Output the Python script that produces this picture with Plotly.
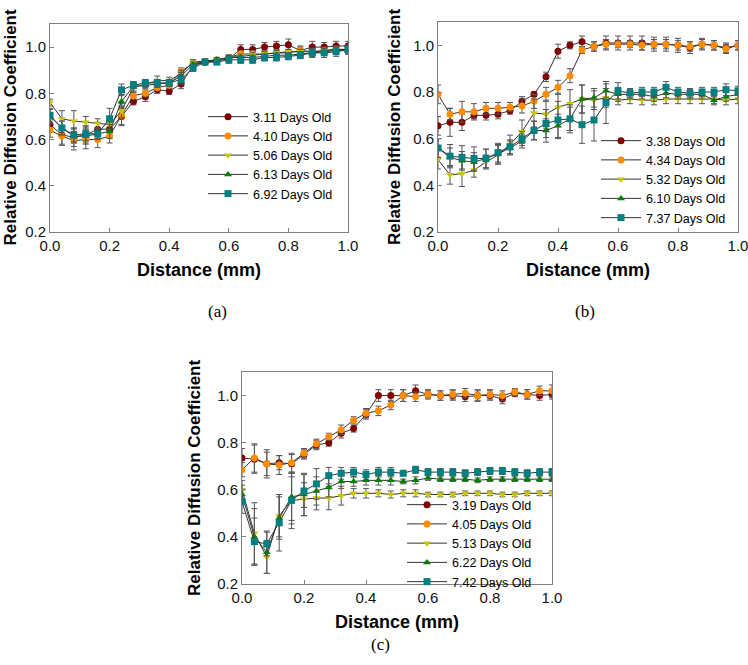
import plotly.graph_objects as go

# ------------------------------ data ------------------------------
distance = [0.0, 0.04, 0.08, 0.12, 0.16, 0.20, 0.24, 0.28, 0.32, 0.36, 0.40, 0.44, 0.48,
            0.52, 0.56, 0.60, 0.64, 0.68, 0.72, 0.76, 0.80, 0.84, 0.88, 0.92, 0.96, 1.0]

# panel (a)
labels_a = ["3.11 Days Old", "4.10 Days Old", "5.06 Days Old", "6.13 Days Old", "6.92 Days Old"]
a_311 = [0.665, 0.62, 0.61, 0.62, 0.645, 0.645, 0.70, 0.765, 0.785, 0.815, 0.81, 0.84, 0.92,
         0.935, 0.94, 0.95, 0.99, 0.99, 1.0, 1.005, 1.01, 0.985, 1.0, 1.0, 1.005, 1.005]
a_410 = [0.64, 0.615, 0.595, 0.60, 0.60, 0.615, 0.705, 0.79, 0.80, 0.825, 0.835, 0.895, 0.93,
         0.935, 0.945, 0.955, 0.97, 0.97, 0.97, 0.975, 0.975, 0.985, 0.98, 0.985, 0.99, 0.99]
a_506 = [0.76, 0.69, 0.68, 0.675, 0.67, 0.665, 0.725, 0.825, 0.84, 0.855, 0.855, 0.885, 0.935,
         0.94, 0.945, 0.955, 0.96, 0.965, 0.97, 0.975, 0.98, 0.98, 0.98, 0.985, 0.99, 0.99]
a_613 = [0.70, 0.65, 0.615, 0.615, 0.625, 0.635, 0.765, 0.83, 0.835, 0.84, 0.845, 0.875, 0.925,
         0.935, 0.945, 0.955, 0.955, 0.955, 0.96, 0.965, 0.965, 0.97, 0.975, 0.98, 0.985, 0.985]
a_692 = [0.705, 0.65, 0.62, 0.625, 0.625, 0.69, 0.815, 0.835, 0.845, 0.845, 0.845, 0.86, 0.91,
         0.935, 0.935, 0.945, 0.945, 0.945, 0.955, 0.955, 0.96, 0.965, 0.975, 0.975, 0.98, 0.99]
a_311_err = [0.02, 0.04, 0.04, 0.04, 0.03, 0.03, 0.04, 0.015, 0.02, 0.015, 0.015, 0.02, 0.015,
             0.01, 0.015, 0.015, 0.02, 0.02, 0.02, 0.02, 0.025, 0.02, 0.025, 0.02, 0.02, 0.02]
a_410_err = [0.03, 0.04, 0.04, 0.04, 0.035, 0.03, 0.04, 0.015, 0.015, 0.015, 0.015, 0.015, 0.015,
             0.01, 0.01, 0.01, 0.015, 0.015, 0.015, 0.015, 0.015, 0.015, 0.015, 0.015, 0.015, 0.015]
a_506_err = [0.015, 0.035, 0.045, 0.025, 0.02, 0.02, 0.03, 0.02, 0.015, 0.02, 0.015, 0.015, 0.01,
             0.01, 0.01, 0.01, 0.01, 0.01, 0.01, 0.01, 0.01, 0.01, 0.01, 0.01, 0.01, 0.01]
a_613_err = [0.03, 0.03, 0.03, 0.03, 0.025, 0.03, 0.03, 0.02, 0.015, 0.015, 0.015, 0.015, 0.01,
             0.01, 0.01, 0.01, 0.01, 0.01, 0.01, 0.01, 0.01, 0.01, 0.015, 0.015, 0.015, 0.015]
a_692_err = [0.03, 0.03, 0.03, 0.03, 0.02, 0.045, 0.025, 0.015, 0.015, 0.015, 0.015, 0.02, 0.015,
             0.01, 0.01, 0.015, 0.015, 0.015, 0.015, 0.015, 0.015, 0.015, 0.02, 0.02, 0.02, 0.02]

# panel (b)
labels_b = ["3.38 Days Old", "4.34 Days Old", "5.32 Days Old", "6.10 Days Old", "7.37 Days Old"]
b_338 = [0.655, 0.67, 0.67, 0.70, 0.70, 0.705, 0.72, 0.76, 0.79, 0.865, 0.975, 1.0, 1.015,
         0.995, 1.01, 1.01, 1.01, 1.01, 1.005, 1.005, 1.0, 0.99, 1.005, 1.0, 0.99, 1.0]
b_434 = [0.79, 0.705, 0.715, 0.715, 0.73, 0.73, 0.735, 0.74, 0.76, 0.79, 0.82, 0.87, 0.98,
         0.995, 1.005, 1.005, 1.005, 1.0, 1.005, 1.005, 1.0, 0.995, 1.005, 1.0, 0.985, 1.0]
b_532 = [0.51, 0.445, 0.45, 0.465, 0.50, 0.53, 0.575, 0.63, 0.71, 0.705, 0.735, 0.75, 0.77,
         0.765, 0.775, 0.765, 0.77, 0.765, 0.765, 0.77, 0.77, 0.77, 0.77, 0.77, 0.765, 0.77]
b_610 = [0.56, 0.52, 0.505, 0.50, 0.515, 0.535, 0.56, 0.59, 0.635, 0.635, 0.655, 0.685, 0.77,
         0.775, 0.805, 0.79, 0.79, 0.79, 0.78, 0.795, 0.79, 0.79, 0.79, 0.765, 0.78, 0.79]
b_737 = [0.56, 0.525, 0.52, 0.515, 0.515, 0.54, 0.565, 0.60, 0.635, 0.665, 0.68, 0.685, 0.66,
         0.68, 0.755, 0.805, 0.795, 0.80, 0.80, 0.82, 0.80, 0.795, 0.80, 0.80, 0.81, 0.805]
b_338_err = [0.04, 0.06, 0.035, 0.015, 0.02, 0.02, 0.015, 0.02, 0.01, 0.02, 0.03, 0.015, 0.025,
             0.02, 0.03, 0.03, 0.03, 0.03, 0.03, 0.03, 0.03, 0.025, 0.025, 0.02, 0.02, 0.02]
b_434_err = [0.04, 0.025, 0.045, 0.035, 0.025, 0.025, 0.02, 0.03, 0.03, 0.03, 0.03, 0.03, 0.015,
             0.02, 0.02, 0.015, 0.015, 0.02, 0.02, 0.02, 0.02, 0.02, 0.02, 0.02, 0.02, 0.02]
b_532_err = [0.04, 0.04, 0.055, 0.03, 0.03, 0.04, 0.04, 0.05, 0.06, 0.06, 0.06, 0.06, 0.06,
             0.04, 0.04, 0.02, 0.02, 0.02, 0.02, 0.02, 0.02, 0.02, 0.02, 0.02, 0.02, 0.02]
b_610_err = [0.04, 0.04, 0.04, 0.04, 0.04, 0.04, 0.03, 0.03, 0.04, 0.05, 0.05, 0.05, 0.06,
             0.04, 0.03, 0.03, 0.02, 0.02, 0.02, 0.02, 0.02, 0.02, 0.02, 0.02, 0.02, 0.02]
b_737_err = [0.04, 0.05, 0.05, 0.05, 0.04, 0.04, 0.03, 0.03, 0.04, 0.06, 0.08, 0.06, 0.08,
             0.09, 0.09, 0.035, 0.02, 0.02, 0.02, 0.025, 0.02, 0.02, 0.02, 0.02, 0.025, 0.02]

# panel (c)
labels_c = ["3.19 Days Old", "4.05 Days Old", "5.13 Days Old", "6.22 Days Old", "7.42 Days Old"]
c_319 = [0.735, 0.73, 0.71, 0.715, 0.71, 0.75, 0.79, 0.80, 0.84, 0.86, 0.92, 1.0, 1.0,
         1.0, 1.02, 1.005, 1.0, 1.0, 0.995, 1.0, 1.0, 0.985, 1.01, 1.005, 1.0, 1.005]
c_405 = [0.685, 0.735, 0.71, 0.705, 0.715, 0.755, 0.795, 0.825, 0.855, 0.895, 0.925, 0.935, 0.96,
         1.0, 0.995, 1.005, 1.0, 1.005, 1.01, 1.0, 1.005, 1.0, 1.015, 1.005, 1.02, 1.02]
c_513 = [0.60, 0.415, 0.315, 0.49, 0.555, 0.56, 0.565, 0.565, 0.575, 0.585, 0.585, 0.585, 0.58,
         0.585, 0.585, 0.58, 0.58, 0.58, 0.585, 0.585, 0.585, 0.58, 0.58, 0.585, 0.585, 0.585]
c_622 = [0.58, 0.40, 0.335, 0.48, 0.57, 0.58, 0.595, 0.61, 0.635, 0.635, 0.64, 0.64, 0.64,
         0.635, 0.64, 0.65, 0.645, 0.645, 0.645, 0.64, 0.645, 0.645, 0.645, 0.645, 0.645, 0.645]
c_742 = [0.55, 0.38, 0.37, 0.46, 0.555, 0.595, 0.625, 0.66, 0.67, 0.675, 0.665, 0.675, 0.675,
         0.67, 0.685, 0.675, 0.675, 0.675, 0.67, 0.675, 0.68, 0.68, 0.675, 0.67, 0.675, 0.675]
c_319_err = [0.04, 0.06, 0.05, 0.03, 0.04, 0.02, 0.02, 0.015, 0.02, 0.015, 0.02, 0.025, 0.025,
             0.025, 0.025, 0.015, 0.02, 0.02, 0.02, 0.025, 0.02, 0.02, 0.015, 0.02, 0.02, 0.02]
c_405_err = [0.03, 0.06, 0.06, 0.04, 0.04, 0.02, 0.02, 0.015, 0.02, 0.015, 0.02, 0.02, 0.02,
             0.025, 0.02, 0.02, 0.02, 0.02, 0.02, 0.02, 0.02, 0.02, 0.015, 0.02, 0.02, 0.025]
c_513_err = [0.04, 0.13, 0.07, 0.09, 0.10, 0.07, 0.05, 0.05, 0.04, 0.02, 0.02, 0.015, 0.015,
             0.015, 0.015, 0.01, 0.01, 0.01, 0.01, 0.01, 0.01, 0.01, 0.01, 0.01, 0.01, 0.01]
c_622_err = [0.04, 0.12, 0.09, 0.09, 0.10, 0.09, 0.06, 0.04, 0.03, 0.02, 0.02, 0.02, 0.02,
             0.01, 0.015, 0.01, 0.01, 0.01, 0.01, 0.01, 0.01, 0.01, 0.01, 0.01, 0.01, 0.01]
c_742_err = [0.05, 0.10, 0.05, 0.12, 0.12, 0.07, 0.065, 0.035, 0.025, 0.02, 0.02, 0.02, 0.02,
             0.01, 0.015, 0.015, 0.015, 0.015, 0.015, 0.015, 0.015, 0.015, 0.015, 0.015, 0.015, 0.015]

colors = ["#800000", "#FF8C00", "#C8C800", "#008000", "#008080"]
symbols = ["circle", "circle", "triangle-down", "triangle-up", "square"]

FONT = "Arial, Liberation Sans, sans-serif"
W, H = 748, 665

#-------------------------------- one panel ------------------------------

def addPanel(fig, n, series, errors, labels, xdom, ydom, legpos, ytitle_x):
    xa = "x" if n == 1 else "x%d" % n
    ya = "y" if n == 1 else "y%d" % n
    leg = "legend" if n == 1 else "legend%d" % n
    for vals, err, name, color, sym in zip(series, errors, labels, colors, symbols):
        fig.add_trace(go.Scatter(
            x=distance, y=vals, name=name, mode="lines+markers",
            xaxis=xa, yaxis=ya, legend=leg,
            line=dict(color="#333333", width=1),
            marker=dict(color=color, symbol=sym, size=7),
            error_y=dict(type="data", array=err, color="#555555", thickness=1, width=3),
        ))
    axis = dict(showline=True, linecolor="#808080", linewidth=1, mirror=True,
                ticks="inside", ticklen=4, tickcolor="#808080", showgrid=False,
                zeroline=False, automargin=False, ticklabeloverflow="allow",
                tickfont=dict(family=FONT, size=15, color="#111111"))
    fig.layout["xaxis" if n == 1 else "xaxis%d" % n] = dict(
        axis, domain=xdom, anchor=ya, range=[0, 1], dtick=0.2, tickformat=".1f",
        title=dict(text="<b>Distance (mm)</b>", standoff=10,
                   font=dict(family=FONT, size=18, color="#000000")))
    fig.layout["yaxis" if n == 1 else "yaxis%d" % n] = dict(
        axis, domain=ydom, anchor=xa, range=[0.2, 1.1], tickvals=[0.2, 0.4, 0.6, 0.8, 1.0],
        tickformat=".1f")
    # y axis title as a rotated annotation so it sits where the original one is
    fig.add_annotation(text="<b>Relative Diffusion Coefficient</b>", textangle=-90,
                       x=ytitle_x / W, y=(ydom[0] + ydom[1]) / 2, xref="paper", yref="paper",
                       xanchor="center", yanchor="middle", showarrow=False,
                       font=dict(family=FONT, size=17, color="#000000"))
    fig.layout[leg] = dict(x=legpos[0], y=legpos[1], xanchor="left", yanchor="top",
                           bgcolor="rgba(0,0,0,0)", itemwidth=40,
                           font=dict(family=FONT, size=12.5, color="#000000"))


fig = go.Figure(layout=go.Layout(width=W, height=H, margin=dict(l=0, r=0, t=0, b=0, autoexpand=False),
                                 plot_bgcolor="white", paper_bgcolor="white",
                                 showlegend=True))

addPanel(fig, 1, [a_311, a_410, a_506, a_613, a_692],
         [a_311_err, a_410_err, a_506_err, a_613_err, a_692_err], labels_a,
         [50 / W, 348 / W], [1 - 232 / H, 1 - 24 / H], [203 / W, 1 - 102 / H], 9.5)
addPanel(fig, 2, [b_338, b_434, b_532, b_610, b_737],
         [b_338_err, b_434_err, b_532_err, b_610_err, b_737_err], labels_b,
         [438 / W, 738 / W], [1 - 232 / H, 1 - 22 / H], [596 / W, 1 - 126 / H], 394)
addPanel(fig, 3, [c_319, c_405, c_513, c_622, c_742],
         [c_319_err, c_405_err, c_513_err, c_622_err, c_742_err], labels_c,
         [242 / W, 552 / W], [1 - 584 / H, 1 - 372 / H], [402 / W, 1 - 490 / H], 194)

for txt, cx, cy in [("(a)", 206, 311), ("(b)", 597, 311), ("(c)", 380, 656)]:
    fig.add_annotation(text=txt, x=cx / W, y=1 - cy / H, xref="paper", yref="paper",
                       showarrow=False, font=dict(family="Liberation Serif, Times New Roman, serif",
                                                  size=17, color="#000000"))

# the page body has an 8px default margin; drop it so the figure fills the window
fig.write_html("out.html", config={"displayModeBar": False},
               post_script="document.body.style.margin='0';")
